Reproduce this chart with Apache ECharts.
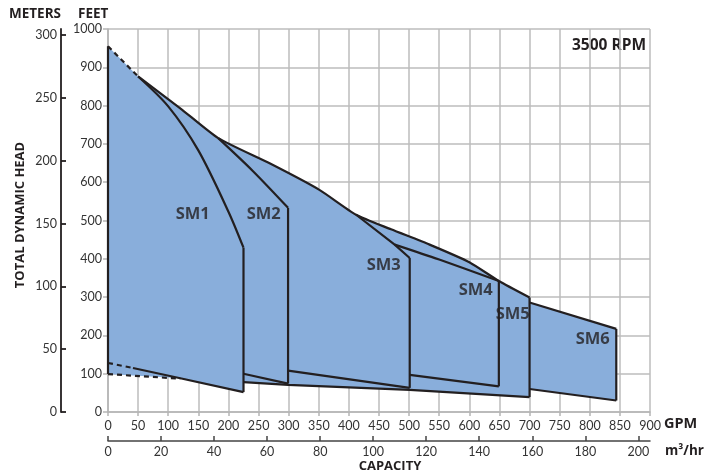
<!DOCTYPE html>
<html>
<head>
<meta charset="utf-8">
<script src="https://cdn.jsdelivr.net/npm/echarts@6/dist/echarts.min.js"></script>
<style>
  html, body { margin: 0; padding: 0; background: #fff; }
  #chart { width: 720px; height: 473px; }
</style>
</head>
<body>
<div id="chart"></div>
<script>
// values: [GPM, feet]
const envelopeDashed = [[0, 955], [50, 876]];
const envelopeSolid = [[50, 876], [120, 793], [183, 715], [270, 648], [351, 580], [412, 515], [470, 477], [534, 437], [600, 391], [649, 342], [700, 299]];
const sm1Top = [[50, 876], [100, 798], [150, 683], [200, 523], [225, 429]];
const sm2Top = [[183, 715], [240, 630], [299, 533]];
const sm3Top = [[412, 515], [476, 437], [501, 402]];
const sm4Top = [[476, 437], [550, 398], [649, 342]];
const sm6Top = [[700, 286], [844, 217]];

const leftEdge = [[0, 955], [0, 99]];
const sm1Edge = [[225, 429], [225, 52]];
const sm2Edge = [[299, 533], [299, 74]];
const sm3Edge = [[501, 402], [501, 63]];
const sm4Edge = [[649, 342], [649, 67]];
const sm5Edge = [[700, 299], [700, 39]];
const sm6Edge = [[844, 217], [844, 30]];

const sm1BottomDashed = [[0, 128], [41.5, 115]];
const sm1Bottom = [[41.5, 115], [120, 88], [225, 52]];
const sm2Bottom = [[225, 100], [299, 74]];
const sm3Bottom = [[299, 108], [501, 63]];
const sm4Bottom = [[501, 97], [649, 67]];
const sm5BottomDashed = [[0, 99], [120, 87]];
const sm5Bottom = [[225, 78], [299, 71], [501, 58], [700, 39]];
const sm6Bottom = [[700, 60], [844, 30]];

const modelLabels = [[140.6, 515, 'SM1'], [258.6, 515, 'SM2'], [457.8, 382, 'SM3'], [610.6, 317, 'SM4'], [672, 256, 'SM5'], [804.8, 190, 'SM6']];

const m3hTicks = [0, 20, 40, 60, 80, 100, 120, 140, 160, 180, 200];
const meterTicks = [0, 50, 100, 150, 200, 250, 300];

// whole blue area, walked round its outside edge
const fillOutline = []
  .concat(envelopeDashed, envelopeSolid.slice(1))
  .concat(sm6Top, [sm6Edge[1]])
  .concat(sm6Bottom.slice().reverse().slice(1), [sm5Edge[1]])
  .concat(sm5Bottom.slice().reverse().slice(1))
  .concat([sm1Edge[1], sm1Bottom[1]], [sm5BottomDashed[0]]);

const ink = '#231f20';
const font = 'Lato, "Open Sans", sans-serif';
const boldFont = '"Open Sans", Lato, sans-serif';

function outline(data, dashed, smooth) {
  return {
    type: 'line',
    data: data,
    symbol: 'none',
    silent: true,
    z: 5,
    smooth: smooth || false,
    lineStyle: { color: ink, width: 2.2, type: dashed ? [5, 4] : 'solid' }
  };
}

const chart = echarts.init(document.getElementById('chart'));

const option = {
  animation: false,
  textStyle: { fontFamily: font },
  grid: { left: 108, right: 70, top: 29, bottom: 61 },
  xAxis: [
    {
      type: 'value', min: 0, max: 900, interval: 50,
      axisLine: { lineStyle: { color: '#b5b5b5', width: 1.5 } },
      axisTick: { show: true, length: 4, lineStyle: { color: '#b5b5b5', width: 1.5 } },
      axisLabel: { color: '#333', fontSize: 12.5, margin: 7, fontFamily: font },
      splitLine: { show: true, lineStyle: { color: '#bdbdbd', width: 1.5 } }
    },
    {
      type: 'value', min: 0, max: 900 / 4.403, position: 'bottom', offset: 29,
      axisLine: { show: true, onZero: false, lineStyle: { color: '#444', width: 1.5 } },
      axisTick: { show: true, inside: true, length: 5, customValues: m3hTicks, lineStyle: { color: '#444', width: 1.5 } },
      axisLabel: { color: '#333', fontSize: 12.5, margin: 4, customValues: m3hTicks, fontFamily: font },
      splitLine: { show: false }
    }
  ],
  yAxis: [
    {
      type: 'value', min: 0, max: 1000, interval: 100,
      axisLine: { show: true, lineStyle: { color: '#b5b5b5', width: 1.5 } },
      axisTick: { show: true, length: 5, lineStyle: { color: '#b5b5b5', width: 1.5 } },
      axisLabel: { color: '#333', fontSize: 12.5, margin: 6, fontFamily: font, formatter: function (v) { return String(v); } },
      splitLine: { show: true, lineStyle: { color: '#bdbdbd', width: 1.5 } }
    },
    {
      type: 'value', min: 0, max: 1000 / 3.2808, position: 'left', offset: 47,
      axisLine: { show: true, onZero: false, lineStyle: { color: ink, width: 1.8 } },
      axisTick: { show: true, inside: true, length: 5, customValues: meterTicks, lineStyle: { color: ink, width: 1.8 } },
      axisLabel: { color: '#333', fontSize: 12.5, margin: 4, customValues: meterTicks, fontFamily: font },
      splitLine: { show: false }
    }
  ],
  series: [
    {
      type: 'custom',
      silent: true,
      z: 2,
      data: fillOutline,
      renderItem: function (params, api) {
        if (params.dataIndex !== 0) return;
        return {
          type: 'polygon',
          shape: { points: fillOutline.map(function (p) { return api.coord(p); }) },
          style: { fill: '#89aedb' }
        };
      }
    },
    outline(envelopeDashed, true),
    outline(envelopeSolid, false, 0.2),
    outline(sm1Top, false, 0.3),
    outline(sm2Top, false, 0.3),
    outline(sm3Top),
    outline(sm4Top, false, 0.3),
    outline(sm6Top),
    outline(leftEdge),
    outline(sm1Edge),
    outline(sm2Edge),
    outline(sm3Edge),
    outline(sm4Edge),
    outline(sm5Edge),
    outline(sm6Edge),
    outline(sm1BottomDashed, true),
    outline(sm1Bottom),
    outline(sm2Bottom),
    outline(sm3Bottom),
    outline(sm4Bottom),
    outline(sm5BottomDashed, true),
    outline(sm5Bottom),
    outline(sm6Bottom),
    {
      type: 'scatter',
      data: modelLabels,
      symbolSize: 0,
      silent: true,
      z: 10,
      label: {
        show: true,
        position: 'inside',
        formatter: function (p) { return p.value[2]; },
        color: ink,
        fontSize: 16.5,
        fontWeight: 'bold',
        fontFamily: boldFont
      }
    }
  ],
  graphic: [
    { type: 'text', x: 9, y: 14, style: { text: 'METERS', font: 'bold 13.5px ' + boldFont, fill: ink, verticalAlign: 'middle' } },
    { type: 'text', x: 78, y: 14, style: { text: 'FEET', font: 'bold 13.5px ' + boldFont, fill: ink, verticalAlign: 'middle' } },
    { type: 'text', x: 646, y: 46, style: { text: '3500 RPM', font: 'bold 15.5px ' + boldFont, fill: ink, align: 'right', verticalAlign: 'middle' } },
    { type: 'text', x: 20, y: 215, rotation: Math.PI / 2, style: { text: 'TOTAL DYNAMIC HEAD', font: 'bold 13px ' + boldFont, fill: ink, align: 'center', verticalAlign: 'middle' } },
    { type: 'text', x: 664, y: 424, style: { text: 'GPM', font: 'bold 14.5px ' + boldFont, fill: ink, verticalAlign: 'middle' } },
    { type: 'text', x: 665, y: 451, style: { text: 'm³/hr', font: 'bold 13.5px ' + boldFont, fill: ink, verticalAlign: 'middle' } },
    { type: 'text', x: 390, y: 466, style: { text: 'CAPACITY', font: 'bold 13px ' + boldFont, fill: ink, align: 'center', verticalAlign: 'middle' } }
  ]
};

chart.setOption(option);
</script>
</body>
</html>
